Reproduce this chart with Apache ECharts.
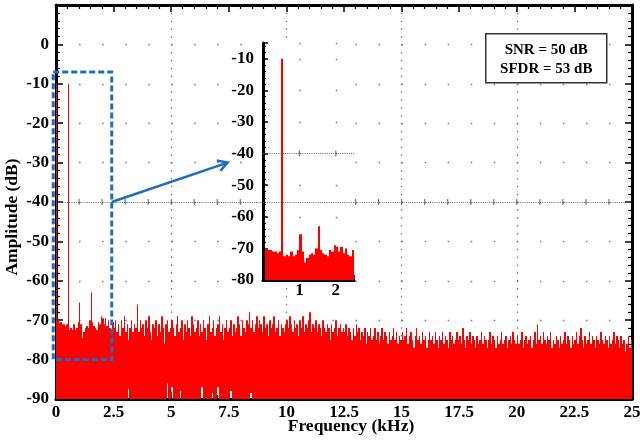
<!DOCTYPE html>
<html>
<head>
<meta charset="utf-8">
<script src="https://cdn.jsdelivr.net/npm/echarts@6/dist/echarts.min.js"></script>
<style>
  html, body { margin: 0; padding: 0; background: #fff; }
  #chart { width: 640px; height: 443px; }
</style>
</head>
<body>
<div id="chart"></div>
<script>
// FFT bin width and spectrum magnitudes (dB), one value per bin starting at 0 kHz
const BIN_KHZ = 0.0625;
const spectrumDb = [
  -10, -70, -70.5, -70.5, -71, -71, -71.5, -71, -10, -72.5, -72, -72.5, -71, -72.5, -72, -70.5, -65.5, -71, -74.5, -73,
  -72, -71.5, -72, -70, -63, -70.5, -71.5, -72, -72.5, -70.5, -71, -69, -69.5, -71, -69.5, -71.5, -70, -72, -72.5, -70.5,
  -72, -70, -73, -71, -74, -70, -72, -69, -73, -71, -75, -72, -70, -73, -71, -72, -66, -73, -70, -72,
  -71, -74, -70, -72, -69, -73, -75, -71, -72, -70, -74, -71, -73, -69, -72, -76, -71, -70, -73, -72,
  -70, -72, -74, -71, -69, -73, -72, -70, -75, -71, -73, -70, -72, -74, -69, -71, -73, -72, -70, -74,
  -71, -73, -70, -72, -75, -71, -69, -73, -72, -70, -74, -72, -71, -69, -73, -71, -75, -72, -70, -73,
  -72, -70, -74, -71, -73, -72, -69, -71, -74, -70, -72, -73, -70, -71, -68, -72, -70, -73, -71, -69,
  -72, -70, -71, -73, -69, -72, -71, -74, -70, -72, -71, -69, -73, -72, -70, -74, -71, -72, -73, -71,
  -70, -72, -69, -71, -73, -70, -72, -71, -74, -70, -72, -69, -73, -71, -72, -70, -68, -73, -71, -72,
  -70, -73, -71, -72, -74, -70, -72, -73, -71, -72, -75, -71, -73, -72, -70, -74, -72, -71, -73, -72,
  -73, -71, -74, -72, -73, -75, -72, -74, -71, -73, -72, -75, -73, -74, -72, -76, -73, -74, -72, -75,
  -74, -72, -75, -73, -76, -74, -72, -75, -73, -74, -76, -73, -75, -74, -72, -75, -73, -76, -74, -75,
  -73, -75, -74, -72, -76, -74, -73, -75, -77, -74, -72, -75, -74, -76, -73, -75, -74, -77, -75, -73,
  -75, -74, -76, -73, -75, -77, -74, -75, -73, -76, -74, -75, -77, -73, -75, -74, -76, -75, -73, -75,
  -74, -76, -72, -75, -77, -74, -75, -73, -76, -74, -75, -77, -74, -76, -75, -73, -76, -74, -75, -77,
  -75, -73, -76, -74, -75, -77, -74, -76, -75, -73, -76, -75, -74, -77, -75, -74, -76, -73, -75, -76,
  -74, -76, -75, -73, -77, -75, -74, -76, -75, -74, -77, -75, -73, -76, -71, -75, -74, -76, -73, -75,
  -76, -74, -75, -73, -77, -75, -76, -74, -75, -77, -74, -76, -75, -73, -76, -74, -75, -77, -74, -76,
  -75, -73, -76, -74, -72, -75, -77, -74, -76, -75, -73, -76, -74, -75, -77, -74, -75, -76, -73, -75,
  -76, -74, -75, -77, -74, -76, -75, -73, -76, -74, -75, -77, -74, -76, -75, -78, -76, -74, -77, -75
];
// bins whose trace stays above the plot floor: [kHz, lowest dB]
const bottomGaps = [
  [3.125, -87.5], [4.8125, -86], [5.0, -87], [5.375, -88], [6.3125, -87],
  [6.75, -88.5], [7.0, -87], [7.5625, -88], [8.4375, -88.5]
];

// axes
const mainXTicks = [0, 2.5, 5, 7.5, 10, 12.5, 15, 17.5, 20, 22.5, 25];
const mainYTicks = [0, -10, -20, -30, -40, -50, -60, -70, -80, -90];
const MAIN_Y_MAX = 10;
const insetXTicks = [1, 2];
const insetYTicks = [-10, -20, -30, -40, -50, -60, -70, -80];
const INSET_X_MAX = 2.5;
const INSET_Y_MAX = -5;

// reference level and its 1 kHz markers
const REF_DB = -40;
const mainRefKHz = [1, 2, 3, 4, 5, 6, 7, 8, 9, 10, 11, 12, 13, 14, 15, 16, 17, 18, 19, 20, 21, 22, 23, 24];
const insetRefKHz = [1, 2];

// zoom-region annotation
const zoomBoxKHz = [-0.12, 2.42];
const zoomBoxDb = [-80, -7];
const arrowTip = [7.45, -30];
const statsLines = ['SNR = 50 dB', 'SFDR = 53 dB'];

const RED = '#ff0000';
const BLUE = '#1c6dbf';
const DOT = '#7a7a7a';
const FONT = "'Liberation Serif', 'Times New Roman', serif";
const labelStyle = { color: '#000', fontFamily: FONT, fontWeight: 'bold', fontSize: 17 };
const nameStyle = { color: '#000', fontFamily: FONT, fontWeight: 'bold', fontSize: 17.5 };

const MAIN_FLOOR = mainYTicks[mainYTicks.length - 1];
const INSET_FLOOR = insetYTicks[insetYTicks.length - 1];

const gapByBin = {};
bottomGaps.forEach(([f, db]) => { gapByBin[Math.round(f / BIN_KHZ)] = db; });

const mainBins = spectrumDb.map((v, i) => [i * BIN_KHZ, v, gapByBin[i] !== undefined ? gapByBin[i] : MAIN_FLOOR]);
// zoomed view: DC bin left out, bins up to the zoom limit
const insetBins = spectrumDb
  .map((v, i) => [i * BIN_KHZ, v, INSET_FLOOR])
  .filter(d => d[0] > 0 && d[0] < INSET_X_MAX - 1e-9);

function renderBin(params, api) {
  const f = api.value(0), top = api.value(1), base = api.value(2);
  const a = api.coord([f, base]);
  const b = api.coord([f + BIN_KHZ, top]);
  const x0 = Math.round(a[0]);
  const x1 = Math.max(Math.round(b[0]), x0 + 1);
  return {
    type: 'rect',
    shape: { x: x0, y: b[1], width: x1 - x0, height: a[1] - b[1] },
    style: { fill: RED }
  };
}

const boxLine = { show: true, onZero: false, lineStyle: { color: '#000', width: 3 } };
const majorTick = (len) => ({ show: true, inside: true, length: len, lineStyle: { color: '#000', width: 1.5 } });
const minorTick = (len) => ({ show: true, splitNumber: 5, length: len, lineStyle: { color: '#000', width: 1.2 } });
const pick = (ticks) => (v) => (ticks.some(t => Math.abs(t - v) < 1e-6) ? String(v) : '');

const chart = echarts.init(document.getElementById('chart'));

chart.setOption({
  animation: false,
  backgroundColor: '#fff',
  grid: [
    { left: 56, right: 8, top: 5, bottom: 44, outerBoundsMode: 'none', containLabel: false },
    { left: 263, right: 286, top: 43, bottom: 163, outerBoundsMode: 'none', containLabel: false,
      show: true, backgroundColor: '#fff', borderWidth: 0, z: 3 }
  ],
  xAxis: [
    {
      gridIndex: 0, type: 'value', position: 'bottom',
      min: mainXTicks[0], max: mainXTicks[mainXTicks.length - 1], interval: 2.5,
      axisLine: boxLine, axisTick: majorTick(7), minorTick: minorTick(4),
      axisLabel: Object.assign({ margin: 5, formatter: pick(mainXTicks) }, labelStyle),
      splitLine: { show: false },
      name: 'Frequency (kHz)', nameLocation: 'middle', nameGap: 18.5, nameMoveOverlap: false,
      nameTextStyle: Object.assign({ padding: [0, 0, 0, 14] }, nameStyle)
    },
    {
      gridIndex: 0, type: 'value', position: 'top',
      min: mainXTicks[0], max: mainXTicks[mainXTicks.length - 1], interval: 2.5,
      axisLine: boxLine, axisTick: majorTick(7), minorTick: minorTick(4),
      axisLabel: { show: false }, splitLine: { show: false }
    },
    {
      gridIndex: 0, type: 'value', position: 'bottom',
      min: mainXTicks[0], max: mainXTicks[mainXTicks.length - 1], interval: 5,
      axisLine: { show: false }, axisTick: { show: false }, axisLabel: { show: false },
      splitLine: { show: true, lineStyle: { color: DOT, width: 1.3, type: [1.5, 6.36] } }
    },
    {
      gridIndex: 1, type: 'value', position: 'bottom', z: 4,
      min: 0, max: INSET_X_MAX, interval: 1,
      axisLine: boxLine, axisTick: majorTick(5), minorTick: minorTick(3),
      axisLabel: Object.assign({ margin: 2, formatter: pick(insetXTicks) }, labelStyle),
      splitLine: { show: false }
    }
  ],
  yAxis: [
    {
      gridIndex: 0, type: 'value', position: 'left',
      min: MAIN_FLOOR, max: MAIN_Y_MAX, interval: 10,
      axisLine: boxLine, axisTick: majorTick(7), minorTick: minorTick(4),
      axisLabel: Object.assign({ margin: 7, formatter: pick(mainYTicks) }, labelStyle),
      splitLine: { show: true, lineStyle: { color: DOT, width: 1.3, type: [1.5, 21.54] } },
      name: 'Amplitude (dB)', nameLocation: 'middle', nameGap: 35, nameRotate: 90, nameMoveOverlap: false,
      nameTextStyle: Object.assign({ padding: [0, 30, 0, 0] }, nameStyle)
    },
    {
      gridIndex: 0, type: 'value', position: 'right',
      min: MAIN_FLOOR, max: MAIN_Y_MAX, interval: 10,
      axisLine: boxLine, axisTick: majorTick(7), minorTick: minorTick(4),
      axisLabel: { show: false }, splitLine: { show: false }
    },
    {
      gridIndex: 1, type: 'value', position: 'left', z: 4,
      min: INSET_FLOOR, max: INSET_Y_MAX, interval: 10,
      axisLine: boxLine, axisTick: majorTick(5), minorTick: minorTick(3),
      axisLabel: Object.assign({ margin: 9, formatter: pick(insetYTicks) }, labelStyle),
      splitLine: { show: true, lineStyle: { color: DOT, width: 1.3, type: [1.5, 34.9] } }
    }
  ],
  series: [
    {
      name: 'spectrum', type: 'custom', xAxisIndex: 0, yAxisIndex: 0, z: 2,
      dimensions: ['kHz', 'dB', 'floor'], encode: { x: 0, y: 1 },
      data: mainBins, renderItem: renderBin, clip: true, silent: true
    },
    {
      name: 'reference', type: 'scatter', xAxisIndex: 0, yAxisIndex: 0, z: 1, silent: true,
      symbol: 'rect', symbolSize: [1.2, 6], itemStyle: { color: '#5a5a5a' },
      data: mainRefKHz.map(k => [k, REF_DB]),
      markLine: {
        silent: true, symbol: ['none', 'none'], label: { show: false },
        lineStyle: { color: '#6a6a6a', width: 1, type: [1, 1.2] },
        data: [{ yAxis: REF_DB }]
      }
    },
    {
      name: 'spectrum zoom', type: 'custom', xAxisIndex: 3, yAxisIndex: 2, z: 5,
      dimensions: ['kHz', 'dB', 'floor'], encode: { x: 0, y: 1 },
      data: insetBins, renderItem: renderBin, clip: true, silent: true
    },
    {
      name: 'reference zoom', type: 'scatter', xAxisIndex: 3, yAxisIndex: 2, z: 6, silent: true,
      symbol: 'rect', symbolSize: [1.2, 6], itemStyle: { color: '#5a5a5a' },
      data: insetRefKHz.map(k => [k, REF_DB]),
      markLine: {
        silent: true, symbol: ['none', 'none'], label: { show: false },
        lineStyle: { color: '#6a6a6a', width: 1, type: [1, 1.2] },
        data: [{ yAxis: REF_DB }]
      }
    }
  ]
});

// annotations placed through the main axes
const px = p => chart.convertToPixel({ xAxisIndex: 0, yAxisIndex: 0 }, p);
const tl = px([zoomBoxKHz[0], zoomBoxDb[1]]);
const br = px([zoomBoxKHz[1], zoomBoxDb[0]]);
const a0 = px([zoomBoxKHz[1], REF_DB]);
const a1 = px(arrowTip);
const dx = a1[0] - a0[0], dy = a1[1] - a0[1];
const len = Math.hypot(dx, dy);
const ux = dx / len, uy = dy / len;
const arm = 11, ang = 30 * Math.PI / 180;
const rot = (x, y, t) => [x * Math.cos(t) - y * Math.sin(t), x * Math.sin(t) + y * Math.cos(t)];
const r1 = rot(ux, uy, ang), r2 = rot(ux, uy, -ang);

chart.setOption({
  graphic: [
    {
      type: 'rect', z: 20, silent: true,
      shape: { x: tl[0], y: tl[1], width: br[0] - tl[0], height: br[1] - tl[1] },
      style: { fill: 'none', stroke: BLUE, lineWidth: 3, lineDash: [6, 3] }
    },
    {
      type: 'line', z: 20, silent: true,
      shape: { x1: a0[0], y1: a0[1], x2: a1[0], y2: a1[1] },
      style: { stroke: BLUE, lineWidth: 2.5 }
    },
    {
      type: 'polyline', z: 20, silent: true,
      shape: { points: [[a1[0] - arm * r1[0], a1[1] - arm * r1[1]], a1, [a1[0] - arm * r2[0], a1[1] - arm * r2[1]]] },
      style: { fill: 'none', stroke: BLUE, lineWidth: 2.5, lineJoin: 'miter' }
    },
    {
      type: 'group', left: 485, top: 33, z: 20, silent: true,
      children: [
        { type: 'rect', shape: { x: 0, y: 0, width: 121, height: 49 }, style: { fill: '#fff', stroke: '#333', lineWidth: 1.5 } },
        { type: 'text', x: 60.5, y: 16, style: { text: statsLines[0], fill: '#000', font: 'bold 15px ' + FONT, textAlign: 'center', textVerticalAlign: 'middle' } },
        { type: 'text', x: 60.5, y: 35.5, style: { text: statsLines[1], fill: '#000', font: 'bold 15px ' + FONT, textAlign: 'center', textVerticalAlign: 'middle' } }
      ]
    }
  ]
});
</script>
</body>
</html>
